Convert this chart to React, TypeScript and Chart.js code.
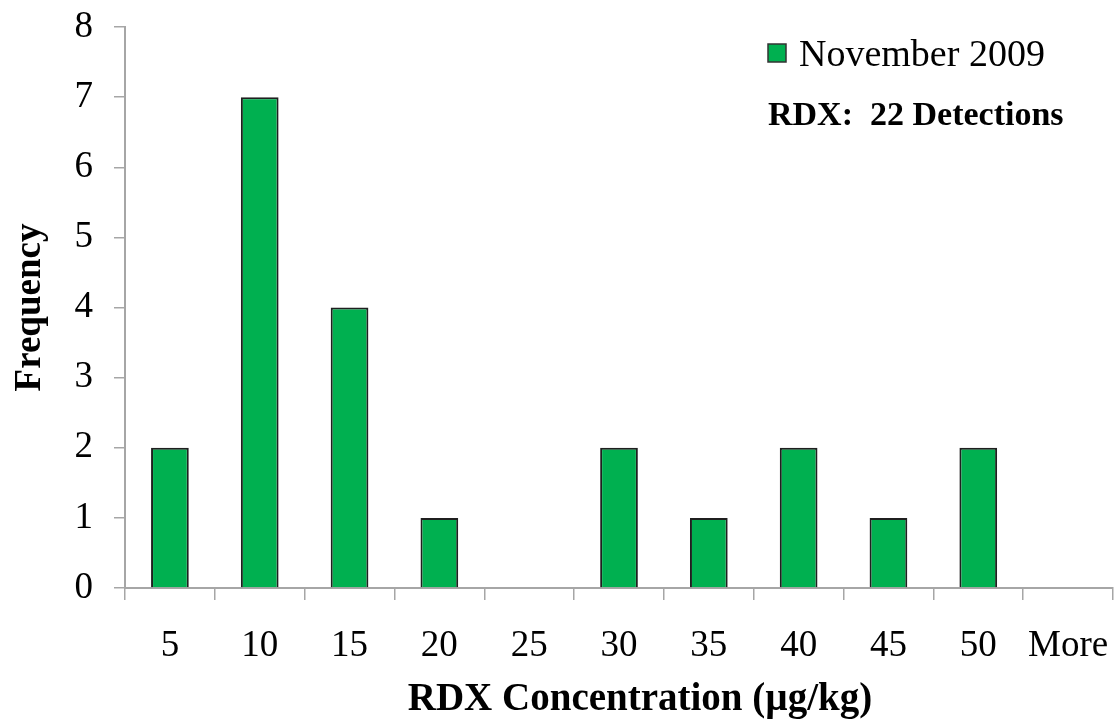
import React, { useEffect, useRef } from "react";
import { Chart, registerables } from "chart.js";

Chart.register(...registerables);

const categories = ["5", "10", "15", "20", "25", "30", "35", "40", "45", "50", "More"];
const frequency = [2, 7, 4, 1, 0, 2, 1, 2, 1, 2, 0];
const seriesLabel = "November 2009";
const annotationText = "RDX:  22 Detections";
const xTitle = "RDX Concentration (\u00B5g/kg)";
const yTitle = "Frequency";
const yMin = 0;
const yMax = 8;
const yStep = 1;

const FONT = "'Liberation Serif', 'Times New Roman', serif";
const GREEN = "#00B050";
const AXIS = "#a6a6a6";

const overlayPlugin = {
  id: "overlay",
  afterDraw(chart: any) {
    const ctx = chart.ctx;
    const area = chart.chartArea;
    const x0 = area.right - 345;
    ctx.save();
    ctx.fillStyle = GREEN;
    ctx.fillRect(x0, 44, 18, 18);
    ctx.strokeStyle = "#333333";
    ctx.lineWidth = 1.5;
    ctx.strokeRect(x0, 44, 18, 18);
    ctx.fillStyle = "#000";
    ctx.textBaseline = "alphabetic";
    ctx.textAlign = "left";
    ctx.font = `38px ${FONT}`;
    ctx.fillText(seriesLabel, x0 + 31, 66);
    ctx.font = `bold 34px ${FONT}`;
    ctx.fillText(annotationText, x0, 125);
    // x-axis title
    ctx.textAlign = "center";
    ctx.font = `bold 39px ${FONT}`;
    ctx.fillText(xTitle, (area.left + area.right) / 2 + 21, 710);
    ctx.restore();
  },
};

export default function App() {
  const ref = useRef<HTMLCanvasElement>(null);
  useEffect(() => {
    if (!ref.current) return;
    const chart = new Chart(ref.current, {
      type: "bar",
      data: {
        labels: categories,
        datasets: [
          {
            label: seriesLabel,
            data: frequency,
            backgroundColor: GREEN,
            borderColor: "#1f1f1f",
            borderWidth: 2,
            categoryPercentage: 1,
            barPercentage: 0.42,
          },
        ],
      },
      options: {
        responsive: false,
        animation: false,
        layout: { padding: { top: 27, right: 3, left: 0, bottom: 0 } },
        plugins: {
          legend: { display: false },
          tooltip: { enabled: false },
        },
        scales: {
          x: {
            grid: {
              offset: true,
              drawOnChartArea: false,
              drawTicks: true,
              tickLength: 12,
              color: AXIS,
              lineWidth: 1.5,
            },
            border: { display: true, color: AXIS, width: 2 },
            ticks: {
              color: "#000",
              font: { family: FONT, size: 37 },
              padding: 24,
              maxRotation: 0,
              autoSkip: false,
            },
            title: { display: false, text: xTitle },
            afterFit(scale: any) {
              scale.height = 131;
              scale.paddingLeft = 0;
              scale.paddingRight = 0;
            },
          },
          y: {
            min: yMin,
            max: yMax,
            grid: {
              drawOnChartArea: false,
              drawTicks: true,
              tickLength: 11,
              color: AXIS,
              lineWidth: 1.5,
            },
            border: { display: true, color: AXIS, width: 2 },
            ticks: {
              stepSize: yStep,
              color: "#000",
              font: { family: FONT, size: 37 },
              padding: 21,
            },
            title: {
              display: true,
              text: yTitle,
              color: "#000",
              font: { family: FONT, size: 37, weight: "bold" },
              padding: { top: 8, bottom: 0 },
            },
            afterFit(scale: any) {
              scale.width = 125;
              scale.paddingTop = 0;
              scale.paddingBottom = 0;
            },
          },
        },
      },
      plugins: [overlayPlugin],
    });
    return () => chart.destroy();
  }, []);
  return (
    <div style={{ position: "absolute", left: 0, top: 0, width: 1116, height: 719, background: "#fff" }}>
      <canvas ref={ref} width={1116} height={719} style={{ display: "block" }} />
    </div>
  );
}
